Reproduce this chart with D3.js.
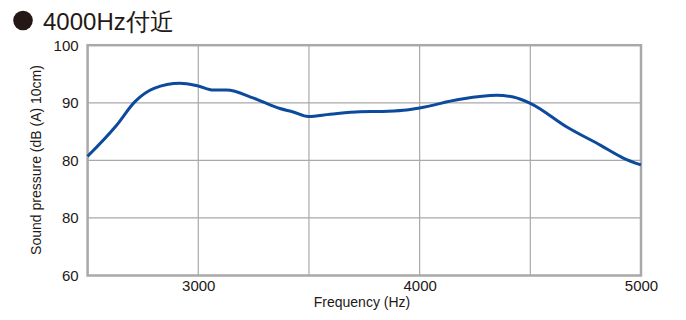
<!DOCTYPE html>
<html>
<head>
<meta charset="utf-8">
<script src="https://cdn.jsdelivr.net/npm/d3@7"></script>
<style>
  body { margin: 0; background: #fff; }
  svg text { font-family: "Liberation Sans", Arial, sans-serif; fill: #231815; }
</style>
</head>
<body>
<svg id="chart" width="686" height="320"></svg>
<script>
// curve
const freqs = [2500, 2631, 2714, 2800, 2917, 3000, 3068, 3128, 3250, 3369, 3429, 3497, 3595, 3730, 3830, 3926, 4000, 4182, 4348, 4423, 4500, 4665, 4818, 4920, 5000]
const spl   = [80.7, 86.1, 90.2, 92.5, 93.4, 92.9, 92.2, 92.2, 90.8, 89.0, 88.4, 87.6, 88.0, 88.45, 88.5, 88.7, 89.1, 90.6, 91.3, 91.0, 89.9, 85.8, 82.6, 80.4, 79.2]
const xTicks = [3000, 4000, 5000]
const xGrid = [3000, 3500, 4000, 4500]
const yTicks = [100, 90, 80, 70, 60]
const yTickLabels = ['100', '90', '80', '80', '60']  // the original really says 80 twice

const pLeft = 87.6, pRight = 641, pTop = 45.2, pBottom = 275.5

const svg = d3.select('#chart')

const x = d3.scaleLinear().domain([2500, 5000]).range([pLeft, pRight])
const y = d3.scaleLinear().domain([60, 100]).range([pBottom, pTop])

// title
svg.append('circle').attr('cx', 23).attr('cy', 20.5).attr('r', 9.8).attr('fill', '#231815')
svg.append('text').attr('x', 43).attr('y', 30).attr('font-size', 24).text('4000Hz付近')

// grid
const grid = svg.append('g')
grid.selectAll('.vg').data(xGrid).enter().append('line')
    .attr('x1', d => x(d)).attr('x2', d => x(d))
    .attr('y1', pTop).attr('y2', pBottom)
    .attr('stroke', '#a9a9a9').attr('stroke-width', 1.2)
grid.selectAll('.hg').data(yTicks.slice(1, -1)).enter().append('line')
    .attr('x1', pLeft).attr('x2', pRight)
    .attr('y1', d => y(d)).attr('y2', d => y(d))
    .attr('stroke', '#a9a9a9').attr('stroke-width', 1.2)

// frame
svg.append('rect').attr('x', pLeft).attr('y', pTop)
    .attr('width', pRight - pLeft).attr('height', pBottom - pTop)
    .attr('fill', 'none').attr('stroke', '#a9a9a9').attr('stroke-width', 2.5)

// axes (labels only)
const yAxis = d3.axisLeft(y).tickValues(yTicks).tickSize(0).tickPadding(9)
    .tickFormat((d, i) => yTickLabels[i])
const gy = svg.append('g').attr('transform', 'translate(' + pLeft + ',0)').call(yAxis)
gy.select('.domain').remove()
gy.selectAll('text').attr('font-size', 15).attr('font-family', '"Liberation Sans", Arial, sans-serif').attr('fill', '#231815')

const xAxis = d3.axisBottom(x).tickValues(xTicks).tickSize(0).tickPadding(5).tickFormat(d3.format('d'))
const gx = svg.append('g').attr('transform', 'translate(0,' + pBottom + ')').call(xAxis)
gx.select('.domain').remove()
gx.selectAll('text').attr('font-size', 15).attr('font-family', '"Liberation Sans", Arial, sans-serif').attr('fill', '#231815')

svg.append('text').attr('x', 362).attr('y', 307).attr('text-anchor', 'middle')
    .attr('font-size', 14).text('Frequency (Hz)')
svg.append('text').attr('transform', 'translate(41,160) rotate(-90)').attr('text-anchor', 'middle')
    .attr('font-size', 14).text('Sound pressure (dB (A) 10cm)')

// curve
const line = d3.line().x((d, i) => x(freqs[i])).y(d => y(d)).curve(d3.curveMonotoneX)
svg.append('path').datum(spl).attr('d', line)
    .attr('fill', 'none').attr('stroke', '#0b4a9c').attr('stroke-width', 3)
    .attr('stroke-linejoin', 'round')
</script>
</body>
</html>
